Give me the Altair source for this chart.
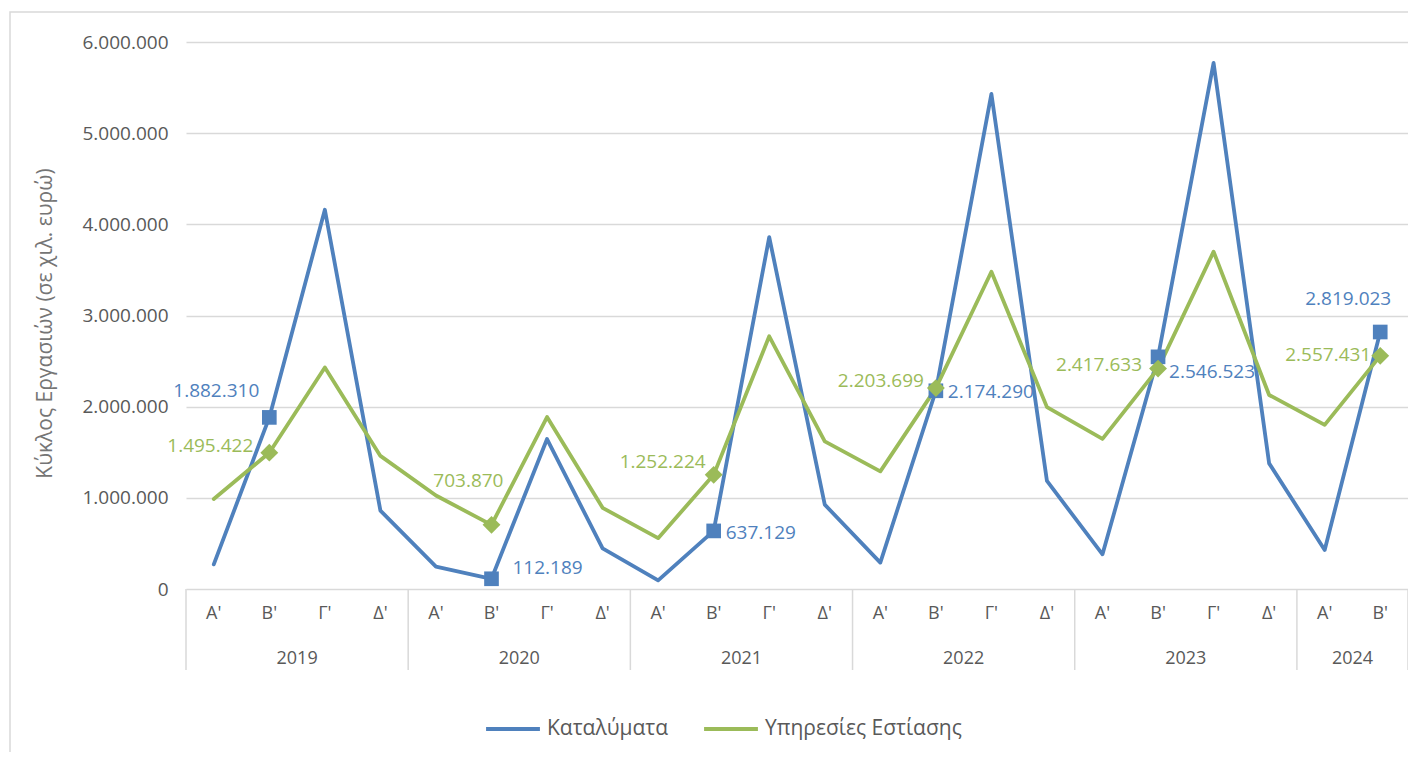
import altair as alt
import pandas as pd

# ---------------- data ----------------
years = ["2019", "2020", "2021", "2022", "2023", "2024"]
quarter_names = ["Α'", "Β'", "Γ'", "Δ'"]
quarters_per_year = [4, 4, 4, 4, 4, 2]
series_names = ["Καταλύματα", "Υπηρεσίες Εστίασης"]

accommodation = [270000, 1882310, 4160000, 860000,
                 245000, 112189, 1645000, 445000,
                 95000, 637129, 3860000, 925000,
                 290000, 2174290, 5430000, 1185000,
                 380000, 2546523, 5770000, 1378000,
                 428000, 2819023]
food_services = [988000, 1495422, 2430000, 1460000,
                 1025000, 703870, 1886000, 890000,
                 558000, 1252224, 2772000, 1619000,
                 1290000, 2203699, 3480000, 1995000,
                 1646000, 2417633, 3700000, 2128000,
                 1800000, 2557431]

labelled_quarter = "Β'"

# ---------------- styling ----------------
FONT = "Open Sans"
TXT = "#595959"
GRID = "#D9D9D9"
colors = ["#4F81BD", "#9BBB59"]
W, H = 1222, 547

# build table
rows = []
i = 0
for y, n in zip(years, quarters_per_year):
    for q in quarter_names[:n]:
        rows.append({"idx": i, "year": y, "quarter": q})
        i += 1
base = pd.DataFrame(rows)
long_rows = []
for s, vals in zip(series_names, [accommodation, food_services]):
    for r, v in zip(rows, vals):
        long_rows.append({**r, "series": s, "value": v,
                          "label": f"{v:,}".replace(",", ".")})
df = pd.DataFrame(long_rows)
n_pts = len(rows)

xscale = alt.Scale(domain=[-0.5, n_pts - 0.5], nice=False, zero=False)
yscale = alt.Scale(domain=[0, 6000000], nice=False)

yaxis = alt.Axis(
    values=[0, 1000000, 2000000, 3000000, 4000000, 5000000, 6000000],
    labelExpr="join(split(format(datum.value, ','), ','), '.')",
    labelFont=FONT, labelFontSize=19, labelColor=TXT, labelPadding=18,
    ticks=False, domain=False, grid=True, gridColor=GRID, gridWidth=1.5,
    title="Κύκλος Εργασιών (σε χιλ. ευρώ)", titleFont=FONT, titleFontSize=21,
    titleFontWeight="normal", titleColor="#757575", titleAngle=270,
    titleX=-141, titleY=281, titleAlign="center", titleBaseline="middle",
)


def X(field="idx"):
    return alt.X(f"{field}:Q", scale=xscale, axis=None)


def Y():
    return alt.Y("value:Q", scale=yscale, axis=yaxis)


# outer chart border (decoration)
border = alt.Chart(pd.DataFrame({"a": [0]})).mark_rect(
    fillOpacity=0, stroke=GRID, strokeWidth=1.5
).encode(x=alt.value(-176), x2=alt.value(1400), y=alt.value(-30), y2=alt.value(900))

# year separators
bounds = [-0.5]
acc = 0
for n in quarters_per_year:
    acc += n
    bounds.append(acc - 0.5)
seps = alt.Chart(pd.DataFrame({"b": bounds})).mark_rule(
    color=GRID, strokeWidth=1.5
).encode(x=X("b"), y=alt.value(H), y2=alt.value(H + 81))

# quarter labels
qlabels = alt.Chart(base).mark_text(
    font=FONT, fontSize=18, color=TXT, baseline="middle"
).encode(x=X(), y=alt.value(H + 25), text="quarter:N")

# year labels
ymid = []
start = 0
for y, n in zip(years, quarters_per_year):
    ymid.append({"mid": start + (n - 1) / 2, "year": y})
    start += n
ylabels = alt.Chart(pd.DataFrame(ymid)).mark_text(
    font=FONT, fontSize=18, color=TXT, baseline="middle"
).encode(x=X("mid"), y=alt.value(H + 70), text="year:N")

# lines
lines = alt.Chart(df).mark_line(strokeWidth=3.8, strokeJoin="round", strokeCap="round").encode(
    x=X(), y=Y(),
    color=alt.Color("series:N", scale=alt.Scale(domain=series_names, range=colors),
                    sort=series_names,
                    legend=alt.Legend(orient="none", legendX=298, legendY=658,
                                      direction="horizontal", title=None,
                                      symbolType="stroke", symbolSize=2900,
                                      symbolStrokeWidth=4, labelFont=FONT,
                                      labelFontSize=21, labelColor=TXT,
                                      labelLimit=0,
                                      labelOffset=5, columnPadding=27)),
    detail="series:N",
)

pts = df[df["quarter"] == labelled_quarter]
acc_pts = pts[pts["series"] == series_names[0]]
food_pts = pts[pts["series"] == series_names[1]]

sq = alt.Chart(acc_pts).mark_point(shape="square", filled=True, size=215,
                                   color=colors[0], opacity=1).encode(x=X(), y=Y())
dm = alt.Chart(food_pts).mark_point(shape="diamond", filled=True, size=320,
                                    color=colors[1], opacity=1).encode(x=X(), y=Y())

# label placements (align, dx, dy) per labelled point, in year order
acc_offsets = [("right", -10, -26), ("left", 21, -11), ("left", 12, 2),
               ("left", 12, 1), ("left", 11, 15), ("right", 11, -33)]
food_offsets = [("right", -16, -7), ("right", 12, -44), ("right", -8, -13),
                ("right", -12, -7), ("right", -16, -4), ("right", -9, -1)]

label_layers = []
for sub, offs, col in [(acc_pts, acc_offsets, colors[0]), (food_pts, food_offsets, colors[1])]:
    for (_, r), (al, dx, dy) in zip(sub.iterrows(), offs):
        label_layers.append(
            alt.Chart(pd.DataFrame([r])).mark_text(
                font=FONT, fontSize=19, color=col, align=al, dx=dx, dy=dy,
                baseline="middle"
            ).encode(x=X(), y=Y(), text="label:N")
        )

chart = alt.layer(border, seps, qlabels, ylabels, lines, sq, dm, *label_layers).properties(
    width=W, height=H,
    padding={"left": 178, "top": 34, "right": 0, "bottom": 163},
    autosize=alt.AutoSizeParams(type="none"),
    background="white",
).configure_view(stroke=None)

chart.save("out.html", embed_options={"renderer": "svg", "actions": False})
